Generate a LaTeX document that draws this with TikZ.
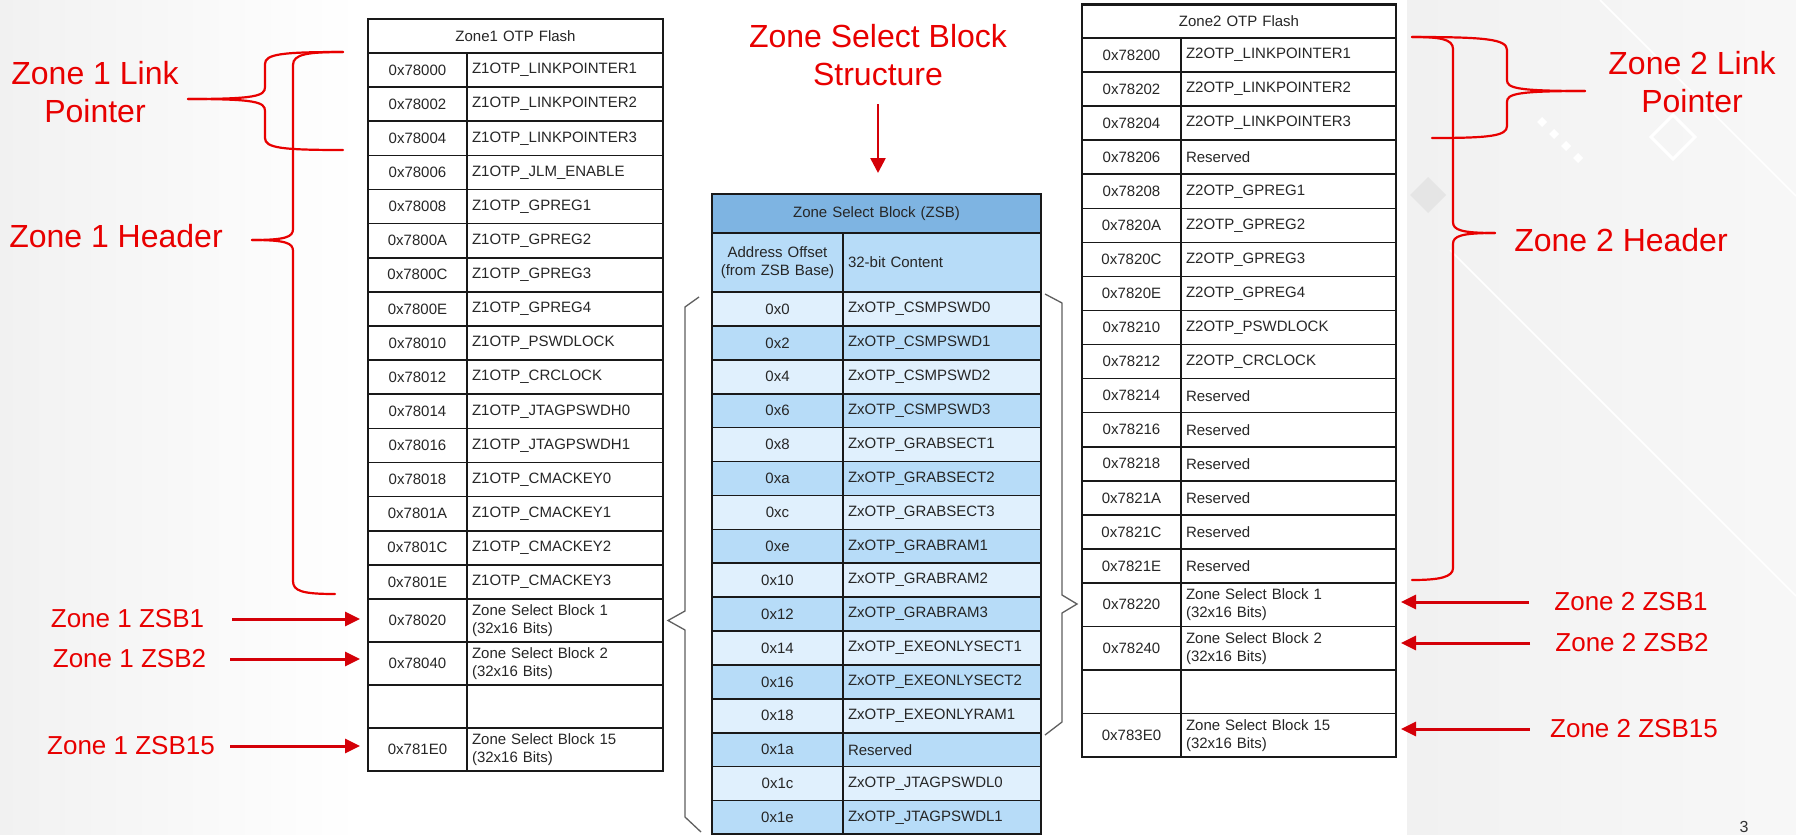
\documentclass[tikz,border=0pt]{standalone}
\usepackage{fontspec}
\setmainfont{Liberation Sans}
\usetikzlibrary{arrows.meta,calc}
\definecolor{zred}{RGB}{232,0,0}
\definecolor{zarrow}{RGB}{212,0,8}
\definecolor{zsbhead}{RGB}{126,180,226}
\definecolor{zsbdark}{RGB}{183,220,248}
\definecolor{zsblight}{RGB}{224,240,253}
\definecolor{gridc}{RGB}{25,25,25}
\definecolor{brk}{RGB}{95,95,95}
\definecolor{bgside}{RGB}{241,241,241}
\tikzset{
  cellbase/.style={draw=gridc, line width=1.6pt, outer sep=0pt, anchor=north west,
    inner ysep=0pt, inner xsep=5pt, text=black!85, font=\fontsize{15}{18}\selectfont},
  z1addr/.style={cellbase, text width=89pt, align=center},
  z1cont/.style={cellbase, text width=186pt, align=left},
  z2addr/.style={cellbase, text width=89pt, align=center},
  z2cont/.style={cellbase, text width=205pt, align=left},
  zaddr/.style={cellbase, text width=121pt, align=center},
  zcont/.style={cellbase, text width=188pt, align=left},
  outerbox/.style={draw=gridc, line width=2.2pt},
  rlab/.style={text=zred, font=\fontsize{32}{38}\selectfont, align=center, inner sep=0pt},
  rsmall/.style={text=zred, font=\fontsize{26}{30}\selectfont, inner sep=0pt},
  rbrace/.style={draw=zred, line width=2.2pt, line cap=round},
  redarr/.style={draw=zarrow, line width=3pt, -{Triangle[length=15pt,width=14pt]}},
  brack/.style={draw=brk, line width=1.3pt, line join=miter}
}
\begin{document}
\begin{tikzpicture}[x=1pt,y=-1pt]
\useasboundingbox (0,0) rectangle (1796,835);
\clip (0,0) rectangle (1796,835);
% background
\fill[white] (0,0) rectangle (1796,835);
\shade[left color=bgside, right color=white] (0,0) rectangle (360,835);
\shade[left color=bgside, right color=black!3] (1407,0) rectangle (1796,835);
\fill[black!10] (1428,177) -- (1446,195) -- (1428,213) -- (1410,195) -- cycle;
\draw[white, line width=3pt] (1673,115) -- (1695,137) -- (1673,159) -- (1651,137) -- cycle;
\foreach \p in {(1542,122),(1554,134),(1566,146),(1578,158)}
  \fill[white] \p ++(0,-5) -- ++(5,5) -- ++(-5,5) -- ++(-5,-5) -- cycle;
\draw[white, line width=1.5pt] (1600,0) -- (1796,196);
\draw[white, line width=1.5pt] (1450,250) -- (1796,596);

% ---------------- Zone 1 table ----------------
\node[cellbase, text width=285pt, align=center, minimum height=34pt] (z1h) at (368,19) {Zone1 OTP Flash};
\foreach \i/\a/\c in {0/0x78000/Z1OTP\_LINKPOINTER1,1/0x78002/Z1OTP\_LINKPOINTER2,2/0x78004/Z1OTP\_LINKPOINTER3,
  3/0x78006/Z1OTP\_JLM\_ENABLE,4/0x78008/Z1OTP\_GPREG1,5/0x7800A/Z1OTP\_GPREG2,6/0x7800C/Z1OTP\_GPREG3,
  7/0x7800E/Z1OTP\_GPREG4,8/0x78010/Z1OTP\_PSWDLOCK,9/0x78012/Z1OTP\_CRCLOCK,10/0x78014/Z1OTP\_JTAGPSWDH0,
  11/0x78016/Z1OTP\_JTAGPSWDH1,12/0x78018/Z1OTP\_CMACKEY0,13/0x7801A/Z1OTP\_CMACKEY1,14/0x7801C/Z1OTP\_CMACKEY2,
  15/0x7801E/Z1OTP\_CMACKEY3}{
  \node[z1addr, minimum height=34.125pt] (z1a\i) at (368,{53+\i*34.125}) {\a};
  \node[z1cont, minimum height=34.125pt] (z1c\i) at (467,{53+\i*34.125}) {\c};
}
\foreach \i/\y/\a/\c in {16/599/0x78020/{Zone Select Block 1\\(32x16 Bits)},17/642/0x78040/{Zone Select Block 2\\(32x16 Bits)},
  18/685//{},19/728/0x781E0/{Zone Select Block 15\\(32x16 Bits)}}{
  \node[z1addr, minimum height=43pt] (z1a\i) at (368,\y) {\a};
  \node[z1cont, minimum height=43pt] (z1c\i) at (467,\y) {\c};
}
\draw[outerbox] (z1h.north west) rectangle (z1c19.south east);

% ---------------- Zone 2 table ----------------
\node[cellbase, text width=304pt, align=center, minimum height=33.5pt] (z2h) at (1082,4.5) {Zone2 OTP Flash};
\foreach \i/\a/\c in {0/0x78200/Z2OTP\_LINKPOINTER1,1/0x78202/Z2OTP\_LINKPOINTER2,2/0x78204/Z2OTP\_LINKPOINTER3,
  3/0x78206/Reserved,4/0x78208/Z2OTP\_GPREG1,5/0x7820A/Z2OTP\_GPREG2,6/0x7820C/Z2OTP\_GPREG3,
  7/0x7820E/Z2OTP\_GPREG4,8/0x78210/Z2OTP\_PSWDLOCK,9/0x78212/Z2OTP\_CRCLOCK,10/0x78214/Reserved,
  11/0x78216/Reserved,12/0x78218/Reserved,13/0x7821A/Reserved,14/0x7821C/Reserved,15/0x7821E/Reserved}{
  \node[z2addr, minimum height=34.0625pt] (z2a\i) at (1082,{38+\i*34.0625}) {\a};
  \node[z2cont, minimum height=34.0625pt] (z2c\i) at (1181,{38+\i*34.0625}) {\c};
}
\foreach \i/\y/\a/\c in {16/583/0x78220/{Zone Select Block 1\\(32x16 Bits)},17/626.5/0x78240/{Zone Select Block 2\\(32x16 Bits)},
  18/670//{},19/713.5/0x783E0/{Zone Select Block 15\\(32x16 Bits)}}{
  \node[z2addr, minimum height=43.5pt] (z2a\i) at (1082,\y) {\a};
  \node[z2cont, minimum height=43.5pt] (z2c\i) at (1181,\y) {\c};
}
\draw[outerbox] (z2h.north west) rectangle (z2c19.south east);

% ---------------- ZSB table ----------------
\node[cellbase, fill=zsbhead, text width=319pt, align=center, minimum height=39pt] (zsbh) at (712,194) {Zone Select Block (ZSB)};
\node[cellbase, fill=zsbdark, text width=121pt, align=center, minimum height=59pt, font=\fontsize{15}{18.5}\selectfont] (zsbsa) at (712,233) {Address Offset\\(from ZSB Base)};
\node[cellbase, fill=zsbdark, text width=188pt, align=left, minimum height=59pt] (zsbsc) at (843,233) {32-bit Content};
\foreach \i/\a/\c in {0/0x0/ZxOTP\_CSMPSWD0,1/0x2/ZxOTP\_CSMPSWD1,2/0x4/ZxOTP\_CSMPSWD2,3/0x6/ZxOTP\_CSMPSWD3,
  4/0x8/ZxOTP\_GRABSECT1,5/0xa/ZxOTP\_GRABSECT2,6/0xc/ZxOTP\_GRABSECT3,7/0xe/ZxOTP\_GRABRAM1,
  8/0x10/ZxOTP\_GRABRAM2,9/0x12/ZxOTP\_GRABRAM3,10/0x14/ZxOTP\_EXEONLYSECT1,11/0x16/ZxOTP\_EXEONLYSECT2,
  12/0x18/ZxOTP\_EXEONLYRAM1,13/0x1a/Reserved,14/0x1c/ZxOTP\_JTAGPSWDL0,15/0x1e/ZxOTP\_JTAGPSWDL1}{
  \ifodd\i \def\fc{zsbdark}\else \def\fc{zsblight}\fi
  \node[zaddr, fill=\fc, minimum height=33.9pt] (zsa\i) at (712,{292+\i*33.9}) {\a};
  \node[zcont, fill=\fc, minimum height=33.9pt] (zsc\i) at (843,{292+\i*33.9}) {\c};
}
\draw[outerbox] (zsbh.north west) rectangle (zsc15.south east);

% ---------------- grey brackets ----------------
\draw[brack] (699,297) -- (685,307) -- (685,611) -- (668,620.5) -- (685,630) -- (685,817) -- (701,832);
\draw[brack] (1045,294) -- (1062,303) -- (1062,595) -- (1077,604) -- (1062,613) -- (1062,722) -- (1045,735);

% ---------------- red braces ----------------
\coordinate (lbtop) at (343,52);
\coordinate (lbbot) at (343,150);
\coordinate (lbtip) at (188,99);
\coordinate (lhbot) at (335,594);
\coordinate (lhtip) at (252,240);
\draw[rbrace] (lbtop) .. controls (282,52) and (265,54) .. (265,64) -- (265,87) .. controls (265,96) and (256,99) .. (lbtip);
\draw[rbrace] (lbbot) .. controls (282,150) and (265,148) .. (265,138) -- (265,111) .. controls (265,102) and (256,99) .. (lbtip);
\draw[rbrace] (lbtop) .. controls (308,52) and (293,54) .. (293,65) -- (293,229) .. controls (293,237) and (286,240) .. (lhtip);
\draw[rbrace] (lhbot) .. controls (302,594) and (293,591) .. (293,581) -- (293,251) .. controls (293,243) and (286,240) .. (lhtip);

\coordinate (rbtop) at (1412,37);
\coordinate (rbbot) at (1432,138);
\coordinate (rbtip) at (1585,91);
\coordinate (rhbot) at (1412,580);
\coordinate (rhtip) at (1495,233);
\draw[rbrace] (rbtop) .. controls (1485,37) and (1507,39) .. (1507,50) -- (1507,80) .. controls (1507,88) and (1516,91) .. (rbtip);
\draw[rbrace] (rbbot) .. controls (1490,138) and (1507,136) .. (1507,126) -- (1507,102) .. controls (1507,94) and (1516,91) .. (rbtip);
\draw[rbrace] (rbtop) .. controls (1440,37) and (1453,39) .. (1453,49) -- (1453,222) .. controls (1453,230) and (1461,233) .. (rhtip);
\draw[rbrace] (rhbot) .. controls (1440,580) and (1453,577) .. (1453,568) -- (1453,244) .. controls (1453,236) and (1461,233) .. (rhtip);

% ---------------- red labels ----------------
\node[rlab] (lz1lp) at (95,92) {Zone 1 Link\\Pointer};
\node[rlab] (lz1hd) at (116,236) {Zone 1 Header};
\node[rlab] (lz2lp) at (1692,82) {Zone 2 Link\\Pointer};
\node[rlab] (lz2hd) at (1621,240) {Zone 2 Header};
\node[rlab] (lzsb) at (878,55) {Zone Select Block\\Structure};

\node[rsmall] (lz1b1) at (127.5,619) {Zone 1 ZSB1};
\node[rsmall] (lz1b2) at (129.5,659) {Zone 1 ZSB2};
\node[rsmall] (lz1b15) at (131,746) {Zone 1 ZSB15};
\node[rsmall] (lz2b1) at (1631,602) {Zone 2 ZSB1};
\node[rsmall] (lz2b2) at (1632,643) {Zone 2 ZSB2};
\node[rsmall] (lz2b15) at (1634,729) {Zone 2 ZSB15};

% ---------------- red arrows ----------------
\draw[redarr] ($(lz1b1.east)+(28,0)$) -- ($(lz1b1.east -| z1a16.west)+(-8,0)$);
\draw[redarr] ($(lz1b2.east)+(24,0)$) -- ($(lz1b2.east -| z1a17.west)+(-8,0)$);
\draw[redarr] ($(lz1b15.east)+(15,0)$) -- ($(lz1b15.east -| z1a19.west)+(-8,0)$);
\draw[redarr] ($(lz2b1.west)+(-25,0)$) -- ($(lz2b1.west -| z2c16.east)+(5,0)$);
\draw[redarr] ($(lz2b2.west)+(-25,0)$) -- ($(lz2b2.west -| z2c17.east)+(5,0)$);
\draw[redarr] ($(lz2b15.west)+(-20,0)$) -- ($(lz2b15.west -| z2c19.east)+(5,0)$);
\draw[redarr, line width=2.6pt, -{Triangle[length=15pt,width=15pt]}] ($(zsbh.north)+(1.5,-90)$) -- ($(zsbh.north)+(1.5,-21)$);

% page number
\node[font=\fontsize{16}{19}\selectfont, text=black!80, anchor=south, inner sep=0pt] (pgnum) at (1744,833) {3};
\end{tikzpicture}
\end{document}
